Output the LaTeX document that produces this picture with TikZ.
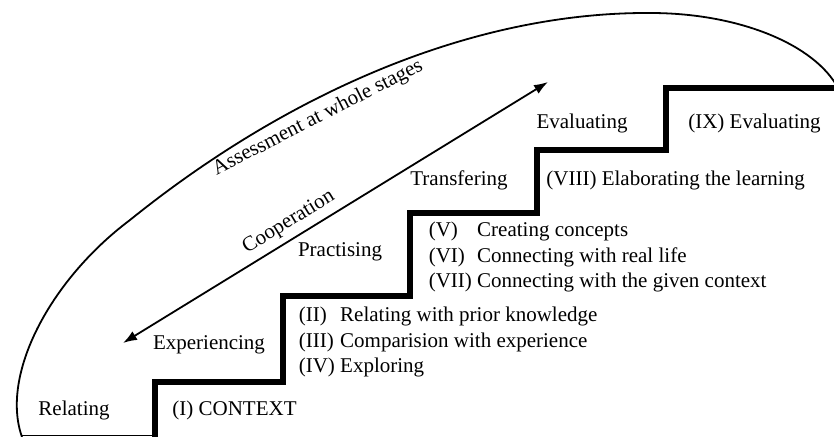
\documentclass[tikz,border=0pt]{standalone}
\usepackage{fontspec}
\setmainfont{Liberation Serif}
\usetikzlibrary{positioning,arrows.meta}

\begin{document}
\begin{tikzpicture}[x=0.5pt, y=-0.5pt, >={Latex[length=7pt,width=5pt]},
    every node/.style={font=\fontsize{10.5}{12.6}\selectfont, inner sep=0pt}]
    \tikzstyle{stage} = [text=black]
    \tikzstyle{tasks} = [align=left]
    \tikzstyle{stairs} = [line width=2.7pt, line join=miter]
    \tikzstyle{outline} = [line width=0.9pt]
    \useasboundingbox (0,0) rectangle (834,437);

    % The stairs
    \draw [stairs] (155,445) |- (283,382) |- (410,296) |- (537,213) |- (666,150) |- (845,88);

    % Assessment curve around the stairs, and the ground line
    \draw [outline] (22,437) .. controls (0,375) and (50,280) .. (130,220)
        .. controls (285,95) and (470,12) .. (650,13)
        .. controls (740,13) and (815,45) .. (838,88);
    \draw [line width=0.5pt] (22,436) -- (155,436);
    \node [rotate=27] (assess) at (318,118) {Assessment at whole stages};

    % Stage names
    \node [stage] (relating) at (74,410) {Relating};
    \node [stage] (experiencing) at (209,345) {Experiencing};
    \node [stage] (practising) at (340,252) {Practising};
    \node [stage] (transfering) at (459,180) {Transfering};
    \node [stage] (evaluating) at (582,123) {Evaluating};

    % What happens on each step
    \node [tasks, right=31pt of relating] (context) {(I) CONTEXT};
    \node [tasks, right=16.5pt of experiencing, yshift=1.5pt] (prior) {\begin{tabular}{@{}l@{\ }l@{}}
        (II) & Relating with prior knowledge\\
        (III) & Comparision with experience\\
        (IV) & Exploring\end{tabular}};
    \node [tasks, right=23pt of practising, yshift=-2.5pt] (concepts) {\begin{tabular}{@{}l@{\ }l@{}}
        (V) & Creating concepts\\
        (VI) & Connecting with real life\\
        (VII) & Connecting with the given context\end{tabular}};
    \node [tasks, right=19pt of transfering] (elaborate) {(VIII) Elaborating the learning};
    \node [tasks, right=30pt of evaluating] (final) {(IX) Evaluating};

    % Cooperation arrow
    \coordinate (coopLow) at (123,343);
    \coordinate (coopHigh) at (548,82);
    \draw [<->, outline] (coopLow) -- node [pos=0.41, above=3pt, sloped] {Cooperation} (coopHigh);
\end{tikzpicture}
\end{document}
